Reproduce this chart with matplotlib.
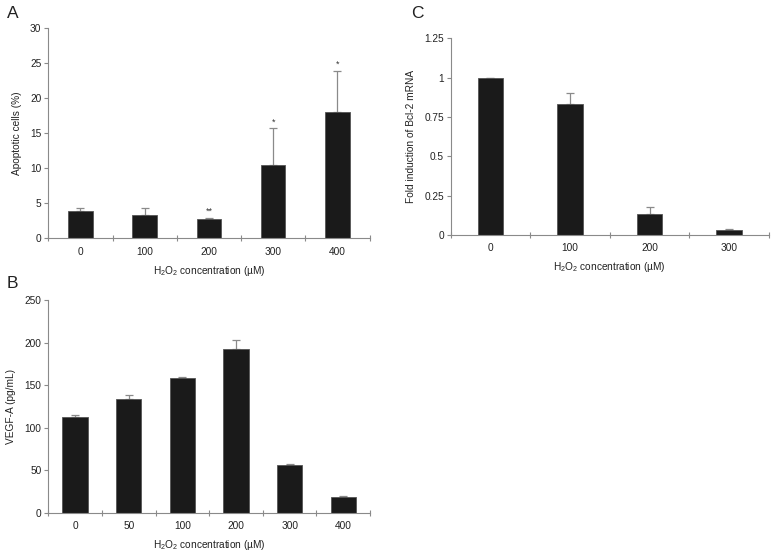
import matplotlib
matplotlib.use("Agg")
import matplotlib.pyplot as plt
import numpy as np

plt.rcParams['font.family'] = ['Liberation Sans', 'DejaVu Sans']
plt.rcParams['mathtext.fontset'] = 'custom'
plt.rcParams['mathtext.rm'] = 'Liberation Sans'
plt.rcParams['mathtext.it'] = 'Liberation Sans'

# Panel A
a_cats = ['0', '100', '200', '300', '400']
a_vals = [3.9, 3.3, 2.7, 10.5, 18.0]
a_err = [0.5, 1.0, 0.2, 5.2, 5.9]
a_marks = ['', '', '**', '*', '*']

# Panel B
b_cats = ['0', '50', '100', '200', '300', '400']
b_vals = [113, 134, 158, 193, 56, 19]
b_err = [2, 4, 2, 10, 1, 1]

# Panel C
c_cats = ['0', '100', '200', '300']
c_vals = [1.0, 0.83, 0.135, 0.03]
c_err = [0.0, 0.07, 0.045, 0.01]

xlabel = r'H$_\mathregular{2}$O$_\mathregular{2}$ concentration (µM)'

fig = plt.figure(figsize=(7.76, 5.56), dpi=100)

axis_grey = '#8a8a8a'
bar_color = '#1a1a1a'
fs = 7.3


def panel(rect, cats, vals, errs, width, ylim, yticks, yticklabels, ylabel, marks=None):
    ax = fig.add_axes(rect)
    x = np.arange(len(cats))
    ax.bar(x, vals, width=width, color=bar_color, edgecolor='#555555', linewidth=0.6, zorder=2)
    ax.errorbar(x, vals, yerr=[np.zeros(len(vals)), errs], fmt='none', ecolor='#8a8a8a',
                elinewidth=0.9, capsize=3, capthick=0.9, zorder=1)
    if marks:
        for xi, v, e, m in zip(x, vals, errs, marks):
            if m:
                ax.text(xi, v + e + ylim[1] * 0.01, m, ha='center', va='bottom', fontsize=6.5, color='#333333')
    ax.set_xlim(-0.5, len(cats) - 0.5)
    ax.set_ylim(*ylim)
    ax.set_yticks(yticks)
    ax.set_yticklabels(yticklabels)
    ax.set_xticks(x)
    ax.set_xticklabels(cats)
    ax.set_xticks(np.arange(len(cats) + 1) - 0.5, minor=True)
    ax.tick_params(axis='x', which='major', length=0, pad=6, labelsize=fs, colors='#222222')
    ax.tick_params(axis='x', which='minor', length=4, direction='inout', color=axis_grey, width=0.8)
    ax.tick_params(axis='y', which='major', length=3, direction='out', color=axis_grey, width=0.8,
                   labelsize=fs, labelcolor='#222222', pad=2)
    for s in ['top', 'right']:
        ax.spines[s].set_visible(False)
    for s in ['left', 'bottom']:
        ax.spines[s].set_color(axis_grey)
        ax.spines[s].set_linewidth(0.8)
    ax.set_xlabel(xlabel, fontsize=fs, color='#222222', labelpad=5)
    ax.set_ylabel(ylabel, fontsize=fs, color='#222222', labelpad=6)
    return ax


panel([0.0622, 0.5714, 0.414, 0.3777], a_cats, a_vals, a_err, 0.38, (0, 30),
      [0, 5, 10, 15, 20, 25, 30], ['0', '5', '10', '15', '20', '25', '30'],
      'Apoptotic cells (%)', a_marks)

panel([0.0622, 0.0779, 0.4146, 0.3825], b_cats, b_vals, b_err, 0.47, (0, 250),
      [0, 50, 100, 150, 200, 250], ['0', '50', '100', '150', '200', '250'],
      'VEGF-A (pg/mL)')

panel([0.5808, 0.5773, 0.4102, 0.3538], c_cats, c_vals, c_err, 0.32, (0, 1.25),
      [0, 0.25, 0.5, 0.75, 1.0, 1.25], ['0', '0.25', '0.5', '0.75', '1', '1.25'],
      'Fold induction of Bcl-2 mRNA')

fig.text(7 / 776, 1 - 14 / 556, 'A', fontsize=12.5, color='#222222', va='center')
fig.text(7 / 776, 1 - 284 / 556, 'B', fontsize=12.5, color='#222222', va='center')
fig.text(411 / 776, 1 - 13 / 556, 'C', fontsize=12.5, color='#222222', va='center')

fig.savefig('out.png', dpi=100, facecolor='white')
